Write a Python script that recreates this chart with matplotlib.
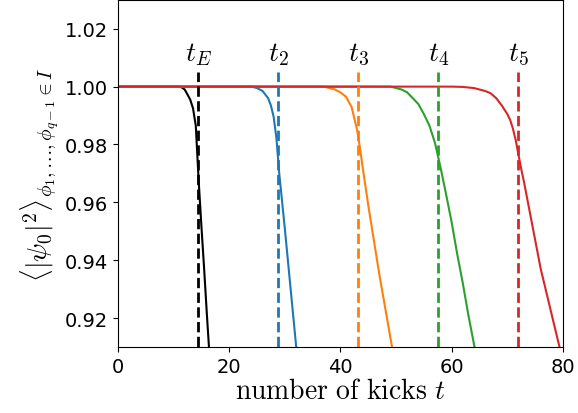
import numpy as np
import matplotlib
matplotlib.use("Agg")
import matplotlib.pyplot as plt

plt.rcParams['mathtext.fontset'] = 'cm'

# survival probability <|psi_0|^2> vs number of kicks
t_E = [0, 5, 10, 11, 11.5, 12, 12.5, 13, 13.5, 14, 14.5, 15, 15.5, 16, 16.5, 17]
p_E = [1.0, 1.0, 1.0, 1.0, 0.9997, 0.999, 0.9973, 0.9955, 0.9925, 0.9865, 0.968,
       0.952, 0.937, 0.921, 0.906, 0.89]

t_2 = [0, 10, 20, 24, 25, 26, 27, 27.5, 28, 28.5, 29, 30, 31, 32, 33]
p_2 = [1.0, 1.0, 1.0, 1.0, 0.9995, 0.9985, 0.996, 0.9935, 0.9895, 0.982, 0.970,
       0.951, 0.931, 0.911, 0.891]

t_3 = [0, 10, 20, 30, 37, 38, 39, 40, 41, 42, 43, 43.5, 44, 45, 46, 47, 48, 49, 50]
p_3 = [1.0, 1.0, 1.0, 1.0, 1.0, 0.9995, 0.999, 0.998, 0.9965, 0.993, 0.985, 0.979,
       0.972, 0.959, 0.947, 0.935, 0.924, 0.913, 0.902]

t_4 = [0, 10, 20, 30, 40, 49, 50, 51, 52, 53, 54, 55, 56, 57, 58, 59, 60, 61, 62,
       63, 64, 65]
p_4 = [1.0, 1.0, 1.0, 1.0, 1.0, 1.0, 0.9995, 0.999, 0.998, 0.996, 0.994, 0.9905,
       0.9865, 0.9805, 0.972, 0.9627, 0.953, 0.942, 0.932, 0.921, 0.911, 0.901]

t_5 = [0, 10, 20, 30, 40, 50, 60, 62, 63, 64, 65, 66, 67, 68, 69, 70, 70.5, 71,
       71.5, 72, 72.5, 73, 74, 75, 76, 77, 78, 79, 80]
p_5 = [1.0, 1.0, 1.0, 1.0, 1.0, 1.0, 1.0, 0.9999, 0.9997, 0.9995, 0.999, 0.9985,
       0.9977, 0.996, 0.9935, 0.9905, 0.9885, 0.9855, 0.9815, 0.9765, 0.9715,
       0.967, 0.957, 0.947, 0.937, 0.929, 0.921, 0.913, 0.905]

# characteristic times
t_marks = [14.4, 28.8, 43.2, 57.6, 72.0]
t_names = [r'$t_E$', r'$t_2$', r'$t_3$', r'$t_4$', r'$t_5$']
colors = ['black', 'tab:blue', 'tab:orange', 'tab:green', 'tab:red']

fig = plt.figure(figsize=(5.78, 4.14), dpi=100)
ax = fig.add_axes([0.204, 0.1594, 0.770, 0.8386])

for t, p, c in zip([t_E, t_2, t_3, t_4, t_5], [p_E, p_2, p_3, p_4, p_5], colors):
    ax.plot(t, p, color=c, lw=1.5)

for tm, name, c in zip(t_marks, t_names, colors):
    ax.plot([tm, tm], [0.90, 1.0052], color=c, ls='--', lw=2)
    ax.text(tm, 1.0068, name, color='black', fontsize=20, ha='center', va='bottom')

ax.set_xlim(0, 80)
ax.set_ylim(0.91, 1.03)
ax.set_xticks([0, 20, 40, 60, 80])
ax.set_yticks([0.92, 0.94, 0.96, 0.98, 1.00, 1.02])
ax.tick_params(labelsize=14)
ax.set_xlabel(r'$\mathrm{number\ of\ kicks}\ t$', fontsize=20, labelpad=0)
ax.set_ylabel(r'$\langle|\psi_0|^2\rangle_{\phi_1,\ldots,\phi_{q-1}\in I}$', fontsize=20, labelpad=2)

fig.savefig('out.png', dpi=100)
